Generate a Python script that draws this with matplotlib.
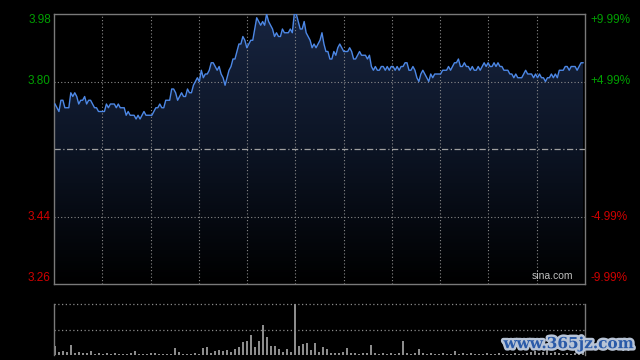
import numpy as np
import matplotlib
matplotlib.use('Agg')
import matplotlib.pyplot as plt
import matplotlib.transforms as mtransforms
import matplotlib.patheffects as pe
from matplotlib.colors import LinearSegmentedColormap

plt.rcParams['font.family'] = ['Liberation Sans', 'DejaVu Sans']

# intraday prices (one point every ~2 min)
prev_close = 3.62
prices = [
    3.74, 3.73, 3.72, 3.75, 3.75, 3.73, 3.73, 3.73, 3.77, 3.76, 3.77, 3.76, 3.74,
    3.75, 3.75, 3.76, 3.74, 3.75, 3.75, 3.74, 3.73, 3.73, 3.72, 3.72, 3.72, 3.72,
    3.74, 3.73, 3.74, 3.74, 3.74, 3.73, 3.74, 3.73, 3.73, 3.73, 3.71, 3.72, 3.71,
    3.71, 3.71, 3.70, 3.71, 3.70, 3.71, 3.72, 3.71, 3.71, 3.71, 3.71, 3.72, 3.73,
    # late morning rally
    3.73, 3.74, 3.73, 3.73, 3.75, 3.75, 3.75, 3.78, 3.78, 3.77, 3.75, 3.76, 3.77,
    3.76, 3.76, 3.78, 3.77, 3.77, 3.79, 3.80, 3.81, 3.80, 3.83, 3.81, 3.82, 3.82,
    3.83, 3.85, 3.85, 3.84, 3.83, 3.84, 3.82, 3.81, 3.79, 3.81, 3.83, 3.84, 3.86,
    3.86, 3.88, 3.90, 3.90, 3.92, 3.91, 3.89, 3.90, 3.91, 3.91, 3.94, 3.97, 3.96,
    # top around noon
    3.95, 3.96, 3.95, 3.98, 3.96, 3.95, 3.94, 3.92, 3.93, 3.92, 3.92, 3.94, 3.93,
    3.93, 3.93, 3.94, 3.93, 3.98, 3.98, 3.96, 3.94, 3.94, 3.96, 3.93, 3.92, 3.91,
    3.89, 3.90, 3.89, 3.90, 3.91, 3.93, 3.90, 3.88, 3.88, 3.86, 3.86, 3.88, 3.87,
    3.89, 3.90, 3.89, 3.88, 3.88, 3.88, 3.89, 3.88, 3.86, 3.86, 3.87, 3.88, 3.87,
    3.87, 3.87, 3.86, 3.87, 3.84,
    # afternoon
    3.83, 3.84, 3.83, 3.83, 3.84, 3.84, 3.83, 3.84, 3.83, 3.84, 3.84, 3.83, 3.84,
    3.83, 3.84, 3.84, 3.85, 3.85, 3.83, 3.83, 3.84, 3.83, 3.81, 3.80, 3.82, 3.83,
    3.82, 3.81, 3.80, 3.82, 3.81, 3.82, 3.82, 3.82, 3.82, 3.83, 3.83, 3.83, 3.84,
    3.83, 3.84, 3.85, 3.85, 3.86, 3.84, 3.84, 3.85, 3.84, 3.84, 3.83, 3.84, 3.83,
    3.83, 3.84, 3.83, 3.84, 3.85, 3.84, 3.85, 3.84, 3.84, 3.85, 3.84, 3.85, 3.84,
    3.84, 3.83, 3.83, 3.83, 3.82, 3.82, 3.81, 3.82, 3.81, 3.81, 3.81, 3.82, 3.83,
    3.82, 3.82, 3.82, 3.81, 3.82, 3.81, 3.82, 3.81, 3.81, 3.80, 3.81, 3.81, 3.82,
    3.81, 3.82, 3.81, 3.83, 3.83, 3.83, 3.84, 3.84, 3.83, 3.84, 3.84, 3.84, 3.83,
    3.84, 3.85, 3.85,
]

# volume bars (every ~4 min), arbitrary units
volume = [
    90, 30, 40, 30, 100, 20, 30, 20, 20, 40, 10, 20, 10, 20, 10, 20, 10, 10, 10, 20,
    40, 10, 10, 10, 20, 20, 10, 10, 10, 10, 70, 30, 10, 10, 10, 20, 10, 70, 80, 20,
    40, 50, 40, 50, 30, 60, 80, 130, 140, 200, 80, 140, 290, 180, 90, 90, 60, 30, 60, 30,
    550, 90, 110, 120, 50, 120, 30, 80, 60, 20, 20, 20, 30, 70, 20, 20, 10, 20, 20, 100,
    20, 10, 20, 10, 20, 10, 20, 140, 20, 10, 20, 60, 20, 10, 20, 10, 10, 20, 10, 10,
    40, 10, 20, 10, 20, 10, 10, 10, 20, 10, 10, 20, 10, 10, 10, 20, 10, 10, 20, 30,
    40, 20, 30, 50, 20, 30, 20, 10, 20, 10, 20, 40, 30,
]

price_ticks = [3.98, 3.80, 3.44, 3.26]
pct_labels = ['+9.99%', '+4.99%', '-4.99%', '-9.99%']

grid_col = '#8a8a8a'
border_col = '#7a7a7a'
green = '#00a000'
red = '#d00000'

fig = plt.figure(figsize=(6.4, 3.6), dpi=100, facecolor='black')
ax = fig.add_axes([54 / 640, 76 / 360, 531 / 640, 270 / 360])
vax = fig.add_axes([54 / 640, 5 / 360, 531 / 640, 51 / 360])

n = len(prices)
x = np.arange(n)
x0, x1 = -0.5, n
ymin, ymax = min(price_ticks), max(price_ticks)

ax.set_facecolor('black')
ax.set_xlim(x0, x1)
ax.set_ylim(ymin, ymax)

# gradient fill under the price line
cmap = LinearSegmentedColormap.from_list('fill', ['#000000', '#0c1424', '#17243f'])
im = ax.imshow(np.linspace(0, 1, 256).reshape(-1, 1), cmap=cmap, aspect='auto',
               extent=[x0, x1, ymin, ymax], origin='lower', zorder=1)
poly = ax.fill_between(x, prices, ymin, color='none', lw=0)
im.set_clip_path(poly.get_paths()[0], transform=ax.transData)

# grid
for xv in np.linspace(x0, x1, 12)[1:-1]:
    ax.axvline(xv, color=grid_col, lw=0.8, ls=(0, (1, 2)), zorder=2)
for yv in price_ticks[1:-1]:
    ax.axhline(yv, color=grid_col, lw=0.8, ls=(0, (1, 2)), zorder=2)
ax.axhline(prev_close, color='#a0a0a0', lw=0.9, ls=(0, (5, 2, 1, 2)), zorder=2)

ax.plot(x, prices, color='#4d88e6', lw=1.0, zorder=3)

ax.set_xticks([])
ax.set_yticks([])
for s in ax.spines.values():
    s.set_color(border_col)
    s.set_linewidth(1)

trans = mtransforms.blended_transform_factory(ax.transAxes, ax.transData)
for p, lab in zip(price_ticks, pct_labels):
    col = green if p > prev_close else red
    va = 'top' if p == ymax else ('bottom' if p == ymin else 'center')
    ax.text(-0.006, p, f'{p:.2f}', transform=trans, ha='right', va=va,
            color=col, fontsize=8.5)
    ax.text(1.01, p, lab, transform=trans, ha='left', va=va, color=col, fontsize=8.5)

ax.text(0.977, 0.01, 'sina.com', transform=ax.transAxes, ha='right', va='bottom',
        color='#c0c0c0', fontsize=7.5)

# volume panel
vtop = 500
vax.set_facecolor('black')
vax.set_xlim(x0, x1)
vax.set_ylim(0, vtop)
vpos = np.linspace(0, n - 1, len(volume))
vax.bar(vpos, volume, width=0.6, color='#8c8c8c', lw=0)
vax.axhline(vtop, color=grid_col, lw=0.9, ls=(0, (1, 2)), clip_on=False)
vax.axhline(vtop / 2, color=grid_col, lw=0.9, ls=(0, (1, 2)))
vax.set_xticks([])
vax.set_yticks([])
for side in ['top', 'bottom']:
    vax.spines[side].set_visible(False)
for side in ['left', 'right']:
    vax.spines[side].set_color(border_col)
    vax.spines[side].set_linewidth(1)

fig.text(0.99, 0.044, 'www.365jz.com', ha='right', va='center', fontsize=11,
         fontweight='bold', family='DejaVu Serif', color='#2a5aa8',
         path_effects=[pe.withStroke(linewidth=3.5, foreground='#b8c4d6')])

fig.savefig('out.png', dpi=100, facecolor='black')
